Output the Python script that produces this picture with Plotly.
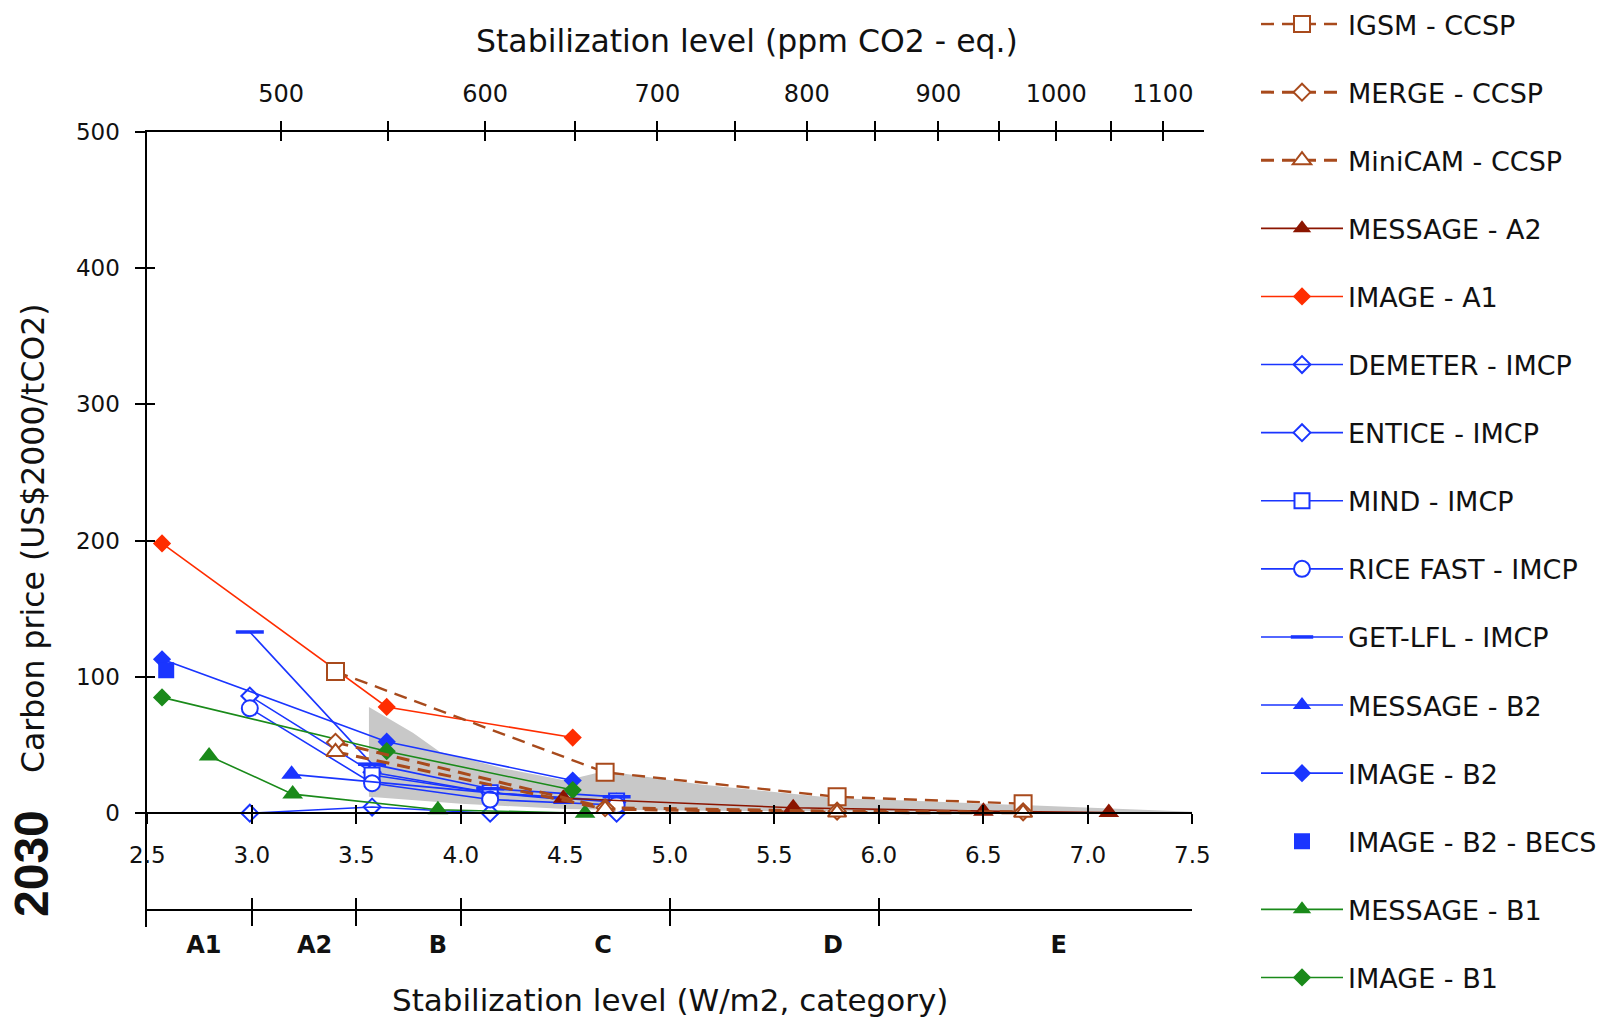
import math
import plotly.graph_objects as go

W, H = 1616, 1021
FONT = "DejaVu Sans"

# ---------------- axis ticks / labels ----------------
wm2_ticks = [2.5, 3.0, 3.5, 4.0, 4.5, 5.0, 5.5, 6.0, 6.5, 7.0, 7.5]
wm2_labels = ["2.5", "3.0", "3.5", "4.0", "4.5", "5.0", "5.5", "6.0", "6.5", "7.0", "7.5"]
ppm_ticks = [500, 550, 600, 650, 700, 750, 800, 850, 900, 950, 1000, 1050, 1100]
ppm_labels = ["500", "", "600", "", "700", "", "800", "", "900", "", "1000", "", "1100"]
price_ticks = [0, 100, 200, 300, 400, 500]
category_names = ["A1", "A2", "B", "C", "D", "E"]
category_bounds = [3.0, 3.5, 4.0, 5.0, 6.0]
category_label_x = [2.77, 3.30, 3.89, 4.68, 5.78, 6.86]

# ---------------- data (W/m2, US$2000/tCO2) ----------------
igsm_x = [3.40, 4.69, 5.80, 6.69]
igsm_y = [104, 30, 12, 7]
merge_x = [3.40, 4.69, 5.80, 6.69]
merge_y = [52, 4, 1.5, 1]
minicam_x = [3.40, 4.69, 5.80, 6.69]
minicam_y = [45, 3, 0.5, 0.3]
message_a2_x = [4.49, 5.59, 6.50, 7.10]
message_a2_y = [11, 4, 1.5, 0.5]
image_a1_x = [2.57, 3.645, 4.535]
image_a1_y = [198, 78, 55.5]
imcp_x = [2.99, 3.575, 4.14, 4.745]
demeter_y = [0, 4.5, 0, 0]
entice_y = [86, 30, 15, 8]
mind_x = [3.575, 4.14, 4.745]
mind_y = [28, 15, 9]
rice_y = [77, 22, 10, 6]
getlfl_y = [133, 36, 18, 12]
message_b2_x = [3.19, 4.49]
message_b2_y = [28.5, 10]
image_b2_x = [2.57, 3.645, 4.535]
image_b2_y = [113, 52.5, 24]
image_b2_becs_x = [2.59]
image_b2_becs_y = [105]
message_b1_x = [2.795, 3.195, 3.89, 4.594]
message_b1_y = [42, 14, 2.5, 0]
image_b1_x = [2.57, 3.645, 4.535]
image_b1_y = [85, 45.5, 17]

shade_upper_x = [3.56, 3.77, 3.90, 4.20, 4.50, 4.69, 5.15, 5.55, 5.80, 6.10, 6.70, 7.50]
shade_upper_y = [78, 59, 45, 33, 24, 31, 21, 15, 11, 9.5, 6, 1]
shade_lower_x = [3.56, 4.00, 4.50, 5.00, 6.00, 7.50]
shade_lower_y = [12, 7, 3, 2, 1, 0]

# ---------------- colours ----------------
C_CCSP = "#A84A1C"
C_A2 = "#8B1500"
C_A1 = "#FF2D00"
C_BLUE = "#1A35FF"
C_GREEN = "#1A8A1A"
C_SHADE = "#C8C8C8"

# ---------------- geometry (pixels) ----------------
X0, X1, X1TOP = 147.4, 1192.4, 1203.7
Y500, Y0, YBOT, YCAT = 131.9, 813.2, 926.7, 909.5
px_per_unit_y = (Y0 - Y500) / 500.0
y_lo = -(YBOT - Y0) / px_per_unit_y
x_top_max = 7.5 + (X1TOP - X1) / ((X1 - X0) / 5.0)


def fx(p):
    return p / W


def fy(p):
    return 1 - p / H


ppm_pos = [5.35 * math.log(c / 278.0) for c in ppm_ticks]

fig = go.Figure()

# shaded range
fig.add_trace(go.Scatter(
    x=shade_upper_x + shade_lower_x[::-1],
    y=shade_upper_y + shade_lower_y[::-1],
    fill="toself", fillcolor=C_SHADE, line=dict(width=0), mode="lines",
    showlegend=False, hoverinfo="skip"))


def add(name, xs, ys, rank, color, symbol, size, fill=None, dash="solid",
        lw=1.6, mode="lines+markers", mlw=2):
    fig.add_trace(go.Scatter(
        x=xs, y=ys, name=name, mode=mode, legendrank=rank, legendgroup=name,
        line=dict(color=color, width=lw, dash=dash),
        marker=dict(symbol=symbol, size=size,
                    color=fill if fill is not None else color,
                    line=dict(color=color, width=mlw))))


add("DEMETER - IMCP", imcp_x, demeter_y, 6, C_BLUE, "diamond-open", 13)
add("ENTICE - IMCP", imcp_x, entice_y, 7, C_BLUE, "diamond", 13, fill="white")
add("MIND - IMCP", mind_x, mind_y, 8, C_BLUE, "square", 15, fill="white")
add("RICE FAST - IMCP", imcp_x, rice_y, 9, C_BLUE, "circle", 16, fill="white")
add("GET-LFL - IMCP", imcp_x, getlfl_y, 10, C_BLUE, "line-ew", 20, mlw=3.5)
add("MESSAGE - B2", message_b2_x, message_b2_y, 11, C_BLUE, "triangle-up", 18, mlw=0)
add("IMAGE - B2", image_b2_x, image_b2_y, 12, C_BLUE, "diamond", 14, mlw=0)
add("IMAGE - B2 - BECS", image_b2_becs_x, image_b2_becs_y, 13, C_BLUE, "square", 16,
    mode="markers", mlw=0)
add("MESSAGE - B1", message_b1_x, message_b1_y, 14, C_GREEN, "triangle-up", 18, mlw=0)
add("IMAGE - B1", image_b1_x, image_b1_y, 15, C_GREEN, "diamond", 14, mlw=0)
add("MESSAGE - A2", message_a2_x, message_a2_y, 4, C_A2, "triangle-up", 18, mlw=0)
add("IMAGE - A1", image_a1_x, image_a1_y, 5, C_A1, "diamond", 14, mlw=0)
add("IGSM - CCSP", igsm_x, igsm_y, 1, C_CCSP, "square", 17, fill="white",
    dash="13px,8px", lw=2.4)
add("MERGE - CCSP", merge_x, merge_y, 2, C_CCSP, "diamond", 13, fill="white",
    dash="13px,8px", lw=3)
add("MiniCAM - CCSP", minicam_x, minicam_y, 3, C_CCSP, "triangle-up", 16, fill="white",
    dash="13px,8px", lw=3)

# empty carrier traces so that the extra (tick-only) axes get drawn
for xa in ["x2", "x3", "x4", "x5", "x6", "x7"]:
    fig.add_trace(go.Scatter(x=[None], y=[None], xaxis=xa, yaxis="y",
                             mode="markers", showlegend=False, hoverinfo="skip"))
fig.add_trace(go.Scatter(x=[None], y=[None], xaxis="x", yaxis="y2",
                         mode="markers", showlegend=False, hoverinfo="skip"))

tickfont = dict(family=FONT, size=23, color="#111")
base = dict(showgrid=False, zeroline=False, tickcolor="black", tickwidth=2,
            linecolor="black", linewidth=2, automargin=False)


def ann(text, x, y, size, angle=0, family=FONT):
    return dict(text=text, x=fx(x), y=fy(y), xref="paper", yref="paper",
                xanchor="center", yanchor="middle", showarrow=False,
                textangle=angle, font=dict(family=family, size=size, color="#111"))


fig.update_layout(
    template="none",
    width=W, height=H, autosize=False,
    margin=dict(l=0, r=0, t=0, b=0, pad=0),
    paper_bgcolor="white", plot_bgcolor="rgba(0,0,0,0)",
    font=dict(family=FONT, color="#111"),
    hovermode=False,
    xaxis=dict(domain=[fx(X0), fx(X1)], range=[2.5, 7.5], anchor="free",
               position=fy(Y0), tickmode="array", tickvals=wm2_ticks,
               ticktext=wm2_labels, ticks="outside", ticklen=10, showline=True,
               tickfont=tickfont, ticklabelstandoff=11, **base),
    xaxis3=dict(overlaying="x", range=[2.5, 7.5], anchor="free", position=fy(Y0),
                tickmode="array", tickvals=wm2_ticks, ticks="inside", ticklen=8,
                showticklabels=False, showline=False, **base),
    xaxis2=dict(domain=[fx(X0), fx(X1TOP)], range=[2.5, x_top_max], anchor="y",
                side="top", tickmode="array", tickvals=ppm_pos, ticktext=ppm_labels,
                ticks="outside", ticklen=9, showline=True,
                tickfont=dict(family=FONT, size=24, color="#111"),
                ticklabelstandoff=9, **base),
    xaxis4=dict(overlaying="x2", range=[2.5, x_top_max], anchor="y", side="top",
                tickmode="array", tickvals=ppm_pos, ticks="inside", ticklen=9,
                showticklabels=False, showline=False, **base),
    xaxis5=dict(overlaying="x", range=[2.5, 7.5], anchor="free", position=fy(YCAT),
                tickmode="array", tickvals=category_bounds, ticks="outside", ticklen=15,
                showticklabels=False, showline=True, **base),
    xaxis6=dict(overlaying="x", range=[2.5, 7.5], anchor="free", position=fy(YCAT),
                tickmode="array", tickvals=category_bounds, ticks="inside", ticklen=12,
                showticklabels=False, showline=False, **base),
    xaxis7=dict(overlaying="x", range=[2.5, 7.5], anchor="free", position=fy(YCAT),
                tickmode="array", tickvals=category_label_x, ticktext=category_names,
                ticks="", showline=False,
                tickfont=dict(family=FONT, size=24, color="#111", weight="bold"),
                ticklabelstandoff=18, showgrid=False, zeroline=False, automargin=False),
    yaxis=dict(domain=[fy(YBOT), fy(Y500)], range=[y_lo, 500], anchor="x",
               tickmode="array", tickvals=price_ticks, ticks="outside", ticklen=10,
               showline=True, tickfont=tickfont, ticklabelstandoff=11, **base),
    yaxis2=dict(overlaying="y", range=[y_lo, 500], anchor="x", tickmode="array",
                tickvals=price_ticks, ticks="inside", ticklen=8,
                showticklabels=False, showline=False, **base),
    showlegend=True,
    legend=dict(x=fx(1256), xanchor="left", y=1.0, yanchor="top",
                font=dict(family=FONT, size=27, color="#111"),
                tracegroupgap=30, itemwidth=82, bgcolor="rgba(0,0,0,0)",
                traceorder="grouped"),
    annotations=[
        ann("Stabilization level (ppm CO2 - eq.)", 747, 41, 31.5),
        ann("Stabilization level (W/m2, category)", 670, 1000, 31),
        ann("Carbon price (US$2000/tCO2)", 33, 538, 31.5, angle=-90),
        ann("<b>2030</b>", 31, 864, 48, angle=-90, family="Liberation Sans"),
    ],
)

fig.write_html("out.html", config={"displayModeBar": False},
               post_script="document.body.style.margin='0';document.body.style.overflow='hidden';")
